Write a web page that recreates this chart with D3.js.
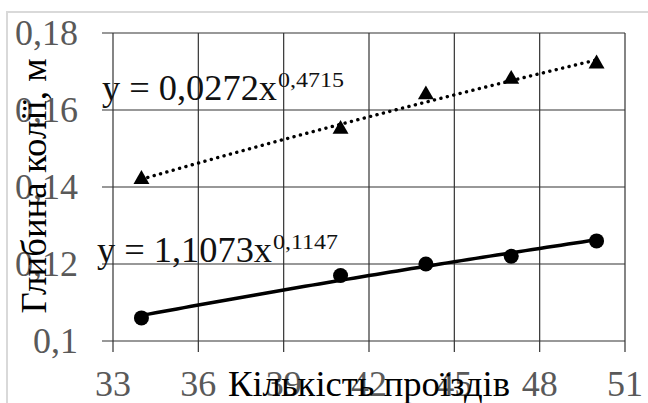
<!DOCTYPE html>
<html><head><meta charset="utf-8">
<script src="https://cdn.jsdelivr.net/npm/d3@7"></script>
<style>body{margin:0;background:#fff}svg{display:block}</style>
</head><body><svg id="c" width="648" height="403"></svg>
<script>
const passes = [34, 41, 44, 47, 50];
const seriesTriangle = [0.142, 0.155, 0.164, 0.168, 0.172];
const seriesCircle = [0.106, 0.117, 0.120, 0.122, 0.126];
const xTicks = [33, 36, 39, 42, 45, 48, 51];
const yTicks = [0.10, 0.12, 0.14, 0.16, 0.18];
const eqTop = {a: "0,0272", b: "0,4715"};
const eqBottom = {a: "1,1073", b: "0,1147"};
const xTitle = "Кількість проїздів";
const yTitle = "Глибина колії, м";

const svg = d3.select("#c");
const L = 113, R = 625, T = 33, B = 341;
const x = d3.scaleLinear().domain([33, 51]).range([L, R]);
const y = d3.scaleLinear().domain([0.10, 0.18]).range([B, T]);
const serif = "'Liberation Serif','Times New Roman',serif";
const fmt = v => d3.format(".2~f")(v).replace(".", ",");

// frame
svg.append("path").attr("d", `M7,403 V12 H648`).attr("fill", "none")
  .attr("stroke", "#d9d9d9").attr("stroke-width", 2);

const grid = svg.append("g").attr("stroke", "#333").attr("stroke-width", 1.2).attr("fill", "none");
yTicks.forEach(t => grid.append("line").attr("x1", L - 11).attr("x2", R).attr("y1", y(t)).attr("y2", y(t)));
xTicks.forEach(t => grid.append("line").attr("x1", x(t)).attr("x2", x(t)).attr("y1", T).attr("y2", B + 11));

// tick labels
svg.append("g").selectAll("text").data(yTicks).join("text")
  .attr("x", 78).attr("y", d => y(d)).attr("dy", "0.33em").attr("text-anchor", "end")
  .attr("font-family", serif).attr("font-size", 36).attr("fill", "#595959").text(fmt);
svg.append("g").selectAll("text").data(xTicks).join("text")
  .attr("x", d => x(d)).attr("y", 396).attr("text-anchor", "middle")
  .attr("font-family", serif).attr("font-size", 36).attr("fill", "#595959").text(d => d);

// power fit (log-log least squares) of each series
function powerFit(xs, ys) {
  const lx = xs.map(Math.log), ly = ys.map(Math.log);
  const mx = d3.mean(lx), my = d3.mean(ly);
  const b = d3.sum(lx, (v, i) => (v - mx) * (ly[i] - my)) / d3.sum(lx, v => (v - mx) ** 2);
  const a = Math.exp(my - b * mx);
  return v => a * Math.pow(v, b);
}
const xs = d3.range(passes[0], passes[passes.length - 1] + 0.001, 0.25);
const line = d3.line().x(d => x(d[0])).y(d => y(d[1]));
const fT = powerFit(passes, seriesTriangle), fC = powerFit(passes, seriesCircle);
svg.append("path").attr("d", line(xs.map(v => [v, fT(v)]))).attr("fill", "none")
  .attr("stroke", "#000").attr("stroke-width", 3.4).attr("stroke-linecap", "round")
  .attr("stroke-dasharray", "0.1 6.5");
svg.append("path").attr("d", line(xs.map(v => [v, fC(v)]))).attr("fill", "none")
  .attr("stroke", "#000").attr("stroke-width", 3.5);

// markers
svg.append("g").selectAll("path").data(passes).join("path")
  .attr("d", d3.symbol(d3.symbolTriangle, 110)())
  .attr("transform", (d, i) => `translate(${x(d)},${y(seriesTriangle[i])})`).attr("fill", "#000");
svg.append("g").selectAll("circle").data(passes).join("circle")
  .attr("cx", d => x(d)).attr("cy", (d, i) => y(seriesCircle[i])).attr("r", 7.5).attr("fill", "#000");

// equations
function eq(xp, yp, e, wMain, wSup) {
  svg.append("text").attr("x", xp).attr("y", yp).attr("font-family", serif)
    .attr("font-size", 35).attr("fill", "#111")
    .attr("textLength", wMain).attr("lengthAdjust", "spacingAndGlyphs").text(`y = ${e.a}x`);
  svg.append("text").attr("x", xp + wMain + 1).attr("y", yp - 13).attr("font-family", serif)
    .attr("font-size", 22).attr("fill", "#111")
    .attr("textLength", wSup).attr("lengthAdjust", "spacingAndGlyphs").text(e.b);
}
eq(102, 100, eqTop, 175, 66);
eq(97, 262, eqBottom, 175, 65);

// axis titles
svg.append("text").attr("x", x(42)).attr("y", 396).attr("text-anchor", "middle")
  .attr("font-family", serif).attr("font-size", 36).attr("fill", "#000")
  .attr("textLength", 282).attr("lengthAdjust", "spacingAndGlyphs").text(xTitle);
svg.append("text").attr("transform", `translate(46,186) rotate(-90)`).attr("text-anchor", "middle")
  .attr("font-family", serif).attr("font-size", 36).attr("fill", "#000")
  .attr("textLength", 255).attr("lengthAdjust", "spacingAndGlyphs").text(yTitle);
</script></body></html>
